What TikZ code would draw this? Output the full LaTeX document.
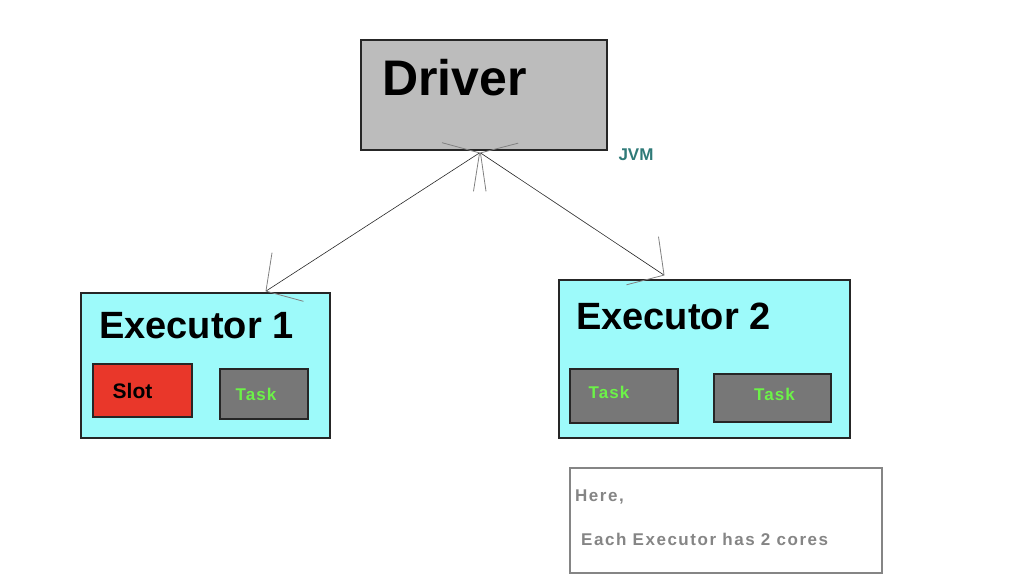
\documentclass[tikz,border=0pt]{standalone}
\usepackage{fontspec}
\setmainfont{Liberation Sans}
\usetikzlibrary{arrows.meta,positioning}
\definecolor{drvgray}{HTML}{BCBCBC}
\definecolor{execcyan}{HTML}{9DFAFA}
\definecolor{slotred}{HTML}{E9372A}
\definecolor{taskgray}{HTML}{777777}
\definecolor{taskgreen}{HTML}{6CF248}
\definecolor{jvmteal}{HTML}{2F7A78}
\definecolor{notegray}{HTML}{858585}
\tikzset{
box/.style={draw=black!85,line width=1.2pt,inner sep=0pt},
title/.style={font=\bfseries,inner sep=0pt,anchor=west},
taskbox/.style={box,fill=taskgray,minimum width=#1,minimum height=50pt,
  font=\bfseries\fontsize{17}{17}\selectfont\addfontfeature{LetterSpace=6},text=taskgreen},
barb/.tip={Straight Barb[length=26pt,width=58pt,color=gray,line width=0.8pt]},
link/.style={line width=0.6pt,black!85,{barb}-{barb}}
}
\begin{document}
\begin{tikzpicture}[x=1pt,y=-1pt]
\useasboundingbox (0,0) rectangle (1024,586);
% driver
\node[box,fill=drvgray,minimum width=246pt,minimum height=110pt] (driver) at (484,95) {};
\node[title,font=\bfseries\fontsize{50}{50}\selectfont] (drvname) at (382,78) {Driver};
\node[font=\bfseries\fontsize{17}{17}\selectfont,text=jvmteal,inner sep=0pt] (jvm) at (636,155) {JVM};
% executors
\node[box,fill=execcyan,minimum width=249pt,minimum height=145pt] (exec1) at (205.5,365.5) {};
\node[title,font=\bfseries\fontsize{38}{38}\selectfont] (exec1name) at (99,326) {Executor 1};
\node[box,fill=slotred,minimum width=99pt,minimum height=53pt,
  font=\bfseries\fontsize{21}{21}\selectfont] (slot) at (142.5,390.5) {\hspace*{-20pt}Slot};
\node[taskbox=88pt] (task1) at (264,394) {\hspace*{-16pt}Task};
\node[box,fill=execcyan,minimum width=291pt,minimum height=158pt] (exec2) at (704.5,359) {};
\node[title,font=\bfseries\fontsize{38}{38}\selectfont] (exec2name) at (576,316) {Executor 2};
\node[taskbox=108pt,minimum height=54pt] (task2) at (624,396) {\raisebox{8pt}{Task}\hspace*{30pt}};
\node[taskbox=117pt,minimum height=48pt] (task3) at (772.5,398) {\raisebox{8pt}{Task}\hspace*{-4pt}};
% note
\node[draw=notegray,line width=1.2pt,minimum width=312pt,minimum height=105pt,inner sep=0pt] (note) at (726,520.5) {};
\node[title,font=\bfseries\fontsize{17}{17}\selectfont\addfontfeature{LetterSpace=9},text=notegray] (notehere) at (575,497) {Here,};
\node[title,font=\bfseries\fontsize{17}{17}\selectfont\addfontfeature{LetterSpace=9},text=notegray] (notecores) at (581,539) {Each Executor has 2 cores};
% links
\draw[link] ([xshift=60pt,yshift=1pt]exec1.north) -- ([xshift=-4pt,yshift=-2pt]driver.south);
\draw[link] ([xshift=-4pt,yshift=-2pt]driver.south) -- ([xshift=-40pt,yshift=4pt]exec2.north);
\end{tikzpicture}
\end{document}
